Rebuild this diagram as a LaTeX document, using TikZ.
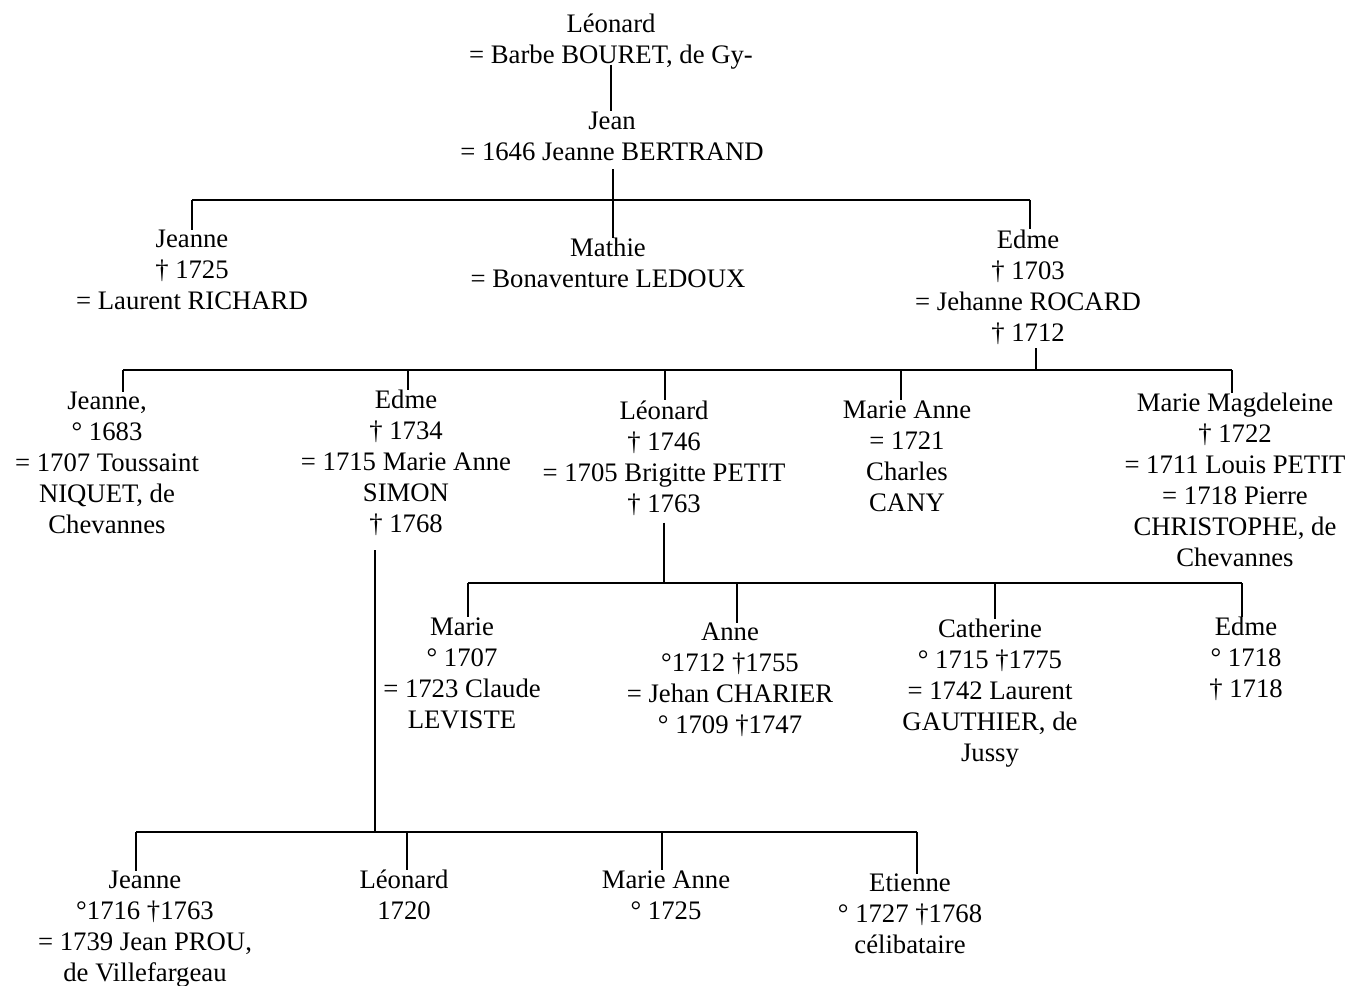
\documentclass[tikz,border=0pt]{standalone}
\usepackage{fontspec}
\setmainfont{Liberation Serif}
\usetikzlibrary{positioning}

\begin{document}
\begin{tikzpicture}[
    x=0.02cm, y=-0.02cm,
    person/.style={align=center, inner sep=0pt, font=\fontsize{15.2}{17.6}\selectfont},
    link/.style={line width=1.1pt}
]
\useasboundingbox (0,0) rectangle (1351,986);

% Ancestors
\node[person] (leonard0) at (611,42) {Léonard\\= Barbe BOURET, de Gy-};
\node[person] (jean) at (612,136) {Jean\\= 1646 Jeanne BERTRAND};

% Children of Jean
\node[person] (jeanne1) at (192,270) {Jeanne\\† 1725\\= Laurent RICHARD};
\node[person] (mathie) at (608,263) {Mathie\\= Bonaventure LEDOUX};
\node[person] (edme1) at (1028,287) {Edme\\† 1703\\= Jehanne ROCARD\\† 1712};

% Children of Edme
\node[person] (jeanne2) at (107,463) {Jeanne,\\° 1683\\= 1707 Toussaint\\NIQUET, de\\Chevannes};
\node[person] (edme2) at (406,463) {Edme\\† 1734\\= 1715 Marie Anne\\SIMON\\† 1768};
\node[person] (leonard2) at (664,458) {Léonard\\† 1746\\= 1705 Brigitte PETIT\\† 1763};
\node[person] (marieanne2) at (907,456) {Marie Anne\\= 1721\\Charles\\CANY};
\node[person] (mariemag) at (1235,480) {Marie Magdeleine\\† 1722\\= 1711 Louis PETIT\\= 1718 Pierre\\CHRISTOPHE, de\\Chevannes};

% Children of Léonard
\node[person] (marie3) at (462,673) {Marie\\° 1707\\= 1723 Claude\\LEVISTE};
\node[person] (anne3) at (730,680) {Anne\\°1712 †1755\\= Jehan CHARIER\\° 1709 †1747};
\node[person] (catherine3) at (990,693) {Catherine\\° 1715 †1775\\= 1742 Laurent\\GAUTHIER, de\\Jussy};
\node[person] (edme3) at (1246,659) {Edme\\° 1718\\† 1718};

% Children of Edme and Marie Anne SIMON
\node[person] (jeanne3) at (145,929) {Jeanne\\°1716 †1763\\= 1739 Jean PROU,\\de Villefargeau};
\node[person] (leonard3) at (404,895) {Léonard\\1720};
\node[person] (marieanne3) at (666,895) {Marie Anne\\° 1725};
\node[person] (etienne3) at (910,914) {Etienne\\° 1727 †1768\\célibataire};

% Bar points
\coordinate (p1) at (613,200);
\coordinate (d-jeanne1) at (192,200);
\coordinate (d-mathie) at (613,200);
\coordinate (d-edme1) at (1030,200);

\coordinate (p2) at (1036,370);
\coordinate (d-jeanne2) at (123,370);
\coordinate (d-edme2) at (408,370);
\coordinate (d-leonard2) at (665,370);
\coordinate (d-marieanne2) at (901,370);
\coordinate (d-mariemag) at (1232,370);

\coordinate (p3) at (664,583);
\coordinate (d-marie3) at (468,583);
\coordinate (d-anne3) at (737,583);
\coordinate (d-catherine3) at (995,583);
\coordinate (d-edme3) at (1242,583);

\coordinate (p4) at (375,832);
\coordinate (d-jeanne3) at (136,832);
\coordinate (d-leonard3) at (407,832);
\coordinate (d-marieanne3) at (662,832);
\coordinate (d-etienne3) at (917,832);

% Lines
\draw[link, shorten <=-3pt] (leonard0.south) -- (leonard0.south |- jean.north);
\draw[link, shorten <=5pt] (p1 |- jean.south) -- (p1);
\draw[link] (d-jeanne1) -- (d-edme1);
\foreach \c in {jeanne1, mathie, edme1}
    \draw[link] (d-\c) -- (d-\c |- \c.north);

\draw[link, shorten <=2pt] (p2 |- edme1.south) -- (p2);
\draw[link] (d-jeanne2) -- (d-mariemag);
\foreach \c in {jeanne2, edme2, leonard2, marieanne2, mariemag}
    \draw[link] (d-\c) -- (d-\c |- \c.north);

\draw[link, shorten <=4pt] (p3 |- leonard2.south) -- (p3);
\draw[link] (d-marie3) -- (d-edme3);
\foreach \c in {marie3, anne3, catherine3, edme3}
    \draw[link] (d-\c) -- (d-\c |- \c.north);

\draw[link, shorten <=8pt] (p4 |- edme2.south) -- (p4);
\draw[link] (d-jeanne3) -- (d-etienne3);
\foreach \c in {jeanne3, leonard3, marieanne3, etienne3}
    \draw[link] (d-\c) -- (d-\c |- \c.north);

\end{tikzpicture}
\end{document}
